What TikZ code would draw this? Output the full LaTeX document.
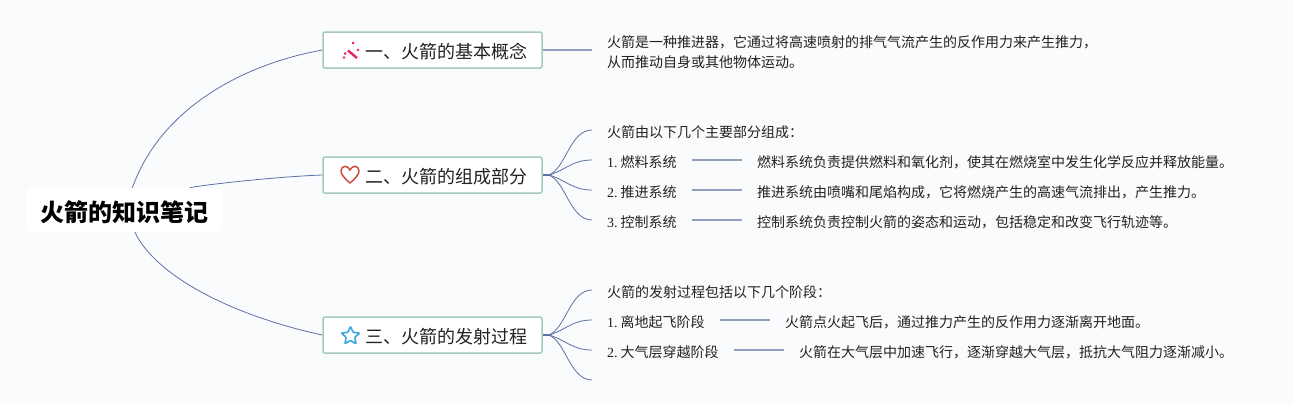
\documentclass[tikz,border=0pt]{standalone}
\usepackage{fontspec}
\setmainfont{Noto Sans CJK SC}
\newfontfamily\numfont{Liberation Serif}
\usetikzlibrary{shapes.geometric}
\definecolor{bgcol}{HTML}{FAFBFD}
\definecolor{linecol}{HTML}{5F71A6}
\definecolor{stubcol}{HTML}{939EBE}
\definecolor{boxcol}{HTML}{A6C8BF}
\definecolor{textcol}{HTML}{222222}
\definecolor{wandcol}{HTML}{E6246A}
\definecolor{heartcol}{HTML}{CC4B3C}
\definecolor{starcol}{HTML}{3BA5DE}
\tikzset{
  rootbox/.style={fill=white, rounded corners=5pt, minimum width=197pt, minimum height=44pt, inner sep=0pt, text height=22pt, text depth=0pt, text=black, font=\fontsize{24}{28}\selectfont\bfseries},
  topicbox/.style={draw=boxcol, line width=1.5pt, fill=white, rounded corners=2pt, minimum width=219pt, minimum height=36pt, inner sep=0pt, text height=17pt, text depth=0pt, text=textcol, font=\fontsize{18}{22}\selectfont, execute at begin node=\hspace*{28pt}},
  itemtext/.style={anchor=west, inner xsep=15pt, inner ysep=0pt, align=left, text height=14pt, text depth=0pt, text=textcol, font=\fontsize{14}{20}\selectfont},
  curveline/.style={draw=linecol, line width=0.8pt},
  stubline/.style={draw=stubcol, line width=1.5pt},
  hubline/.style={draw=linecol, line width=2pt}
}
\begin{document}
\begin{tikzpicture}[x=1pt, y=-1pt]
  \fill[bgcol] (0,0) rectangle (1293,405);
  \useasboundingbox (0,0) rectangle (1293,405);

  \node[rootbox] (root) at (124.5,210) {火箭的知识笔记};

  \node[topicbox] (t1) at (432.5,50) {一、火箭的基本概念};
  \node[topicbox] (t2) at (432.5,175) {二、火箭的组成部分};
  \node[topicbox] (t3) at (432.5,335) {三、火箭的发射过程};

  \node[itemtext, text height=34pt] (a0) at (592,50) {火箭是一种推进器，它通过将高速喷射的排气气流产生的反作用力来产生推力，\\从而推动自身或其他物体运动。};

  \node[itemtext] (b0) at (592,130) {火箭由以下几个主要部分组成：};
  \node[itemtext] (b1) at (592,160) {{\numfont 1.}\hspace{3pt}燃料系统};
  \node[itemtext] (b2) at (592,190) {{\numfont 2.}\hspace{3pt}推进系统};
  \node[itemtext] (b3) at (592,220) {{\numfont 3.}\hspace{3pt}控制系统};
  \node[itemtext] (d1) at (742,160) {燃料系统负责提供燃料和氧化剂，使其在燃烧室中发生化学反应并释放能量。};
  \node[itemtext] (d2) at (742,190) {推进系统由喷嘴和尾焰构成，它将燃烧产生的高速气流排出，产生推力。};
  \node[itemtext] (d3) at (742,220) {控制系统负责控制火箭的姿态和运动，包括稳定和改变飞行轨迹等。};

  \node[itemtext] (c0) at (592,290) {火箭的发射过程包括以下几个阶段：};
  \node[itemtext] (c1) at (592,320) {{\numfont 1.}\hspace{3pt}离地起飞阶段};
  \node[itemtext] (c2) at (592,350) {{\numfont 2.}\hspace{3pt}大气层穿越阶段};
  \node[itemtext] (e1) at (770,320) {火箭点火起飞后，通过推力产生的反作用力逐渐离开地面。};
  \node[itemtext] (e2) at (784,350) {火箭在大气层中加速飞行，逐渐穿越大气层，抵抗大气阻力逐渐减小。};
  \coordinate (c3) at (592,380);

  \coordinate (hub2) at (549,175);
  \coordinate (hub3) at (549,335);

  \draw[curveline] (root) .. controls (160,110) and (240,65) .. (t1.west);
  \draw[curveline] (root) .. controls (195,186) and (270,177) .. (t2.west);
  \draw[curveline] (root) .. controls (155,275) and (230,315) .. (t3.west);

  \draw[stubline] (t1.east) -- (a0.west);

  \draw[hubline] (t2.east) -- (hub2);
  \draw[curveline] (hub2) .. controls (566,168) and (570,130) .. (b0.west);
  \draw[curveline] (hub2) .. controls (566,170) and (572,160) .. (b1.west);
  \draw[curveline] (hub2) .. controls (566,180) and (572,190) .. (b2.west);
  \draw[curveline] (hub2) .. controls (566,182) and (570,220) .. (b3.west);
  \draw[stubline] (b1) -- (d1);
  \draw[stubline] (b2) -- (d2);
  \draw[stubline] (b3) -- (d3);

  \draw[hubline] (t3.east) -- (hub3);
  \draw[curveline] (hub3) .. controls (566,328) and (570,290) .. (c0.west);
  \draw[curveline] (hub3) .. controls (566,330) and (572,320) .. (c1.west);
  \draw[curveline] (hub3) .. controls (566,340) and (572,350) .. (c2.west);
  \draw[curveline] (hub3) .. controls (566,342) and (570,380) .. (c3);
  \draw[stubline] (c1) -- (e1);
  \draw[stubline] (c2) -- (e2);

  \draw[draw=wandcol, line width=2.4pt] (348,50.5) -- (357,58);
  \fill[wandcol] (353,43) circle (1.5pt) (358,50) circle (1.3pt) (345,53.5) circle (1.5pt) (344,57.5) circle (1.3pt);

  \draw[draw=heartcol, line width=1.5pt, line join=round] (350,183) .. controls (344,178) and (341,174) .. (341,171) .. controls (341,165) and (348,165) .. (350,170) .. controls (352,165) and (359,165) .. (359,171) .. controls (359,174) and (356,178) .. (350,183) -- cycle;

  \node[star, star points=5, star point ratio=2.1, draw=starcol, line width=1.6pt, rounded corners=0.8pt, minimum size=19pt, inner sep=0pt] (icon3) at (350.5,336) {};
\end{tikzpicture}
\end{document}
